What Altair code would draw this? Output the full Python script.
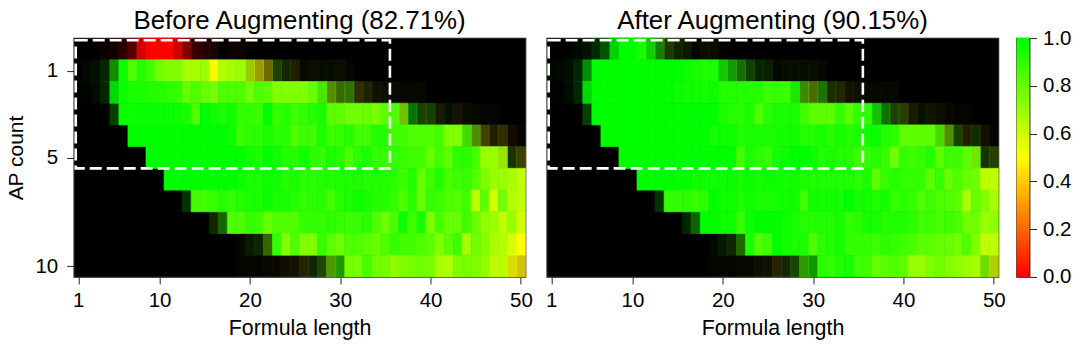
import altair as alt
import pandas as pd

TITLES = ["Before Augmenting (82.71%)", "After Augmenting (90.15%)"]
X_TICKS = [1, 10, 20, 30, 40, 50]
Y_TICKS = [1, 5, 10]
BAR_TICKS = [0.0, 0.2, 0.4, 0.6, 0.8, 1.0]
BOX_X = [0.72, 35.5]
BOX_Y = [-0.4, 5.5]
GRADIENT_COLORS = ["#ff0000", "#ffff00", "#00ff00"]

# first formula length with any data, per AP-count row (row 0 .. 10)
ROW_START = [3, 1, 2, 5, 7, 9, 11, 13, 16, 19, 19]

# cell brightness (share of samples), percent, from ROW_START on; same for both panels
WEIGHT = [
    [1,4,7,17,33,82,100,100,100,80,50,22,14,9,2,6,5,1],
    [2,3,6,15,55] + [100]*14 + [78,60,42,25,15,12,3,5,5,5,5,3],
    [1,5,15,85] + [100]*22 + [90,55,42,45,18,15,7,6,4,3,3,3],
    [25] + [100]*31 + [75,45,25,25,10,7,8,5,3,2,2],
    [100]*37 + [85,55,25,13,18,7,2],
    [100]*39 + [90,20,25],
    [100]*40,
    [20] + [100]*37,
    [15,40] + [100]*33,
    [3,10,15,40] + [100]*28,
    [2,2,2,3,3,6,7,15,15,27,60,60] + [100]*18 + [86,82],
]

BEFORE = [
    [0]*13 + [15,0,0,10,0],
    [90,80,90,95,93, 97,85,93,88,78, 75,75,67,67,70, 52,65,67,70,61, 50,50,75,75,50, 50,70,70,80,60, 70],
    [90,90,95,100, 98,95,95,93,93, 92,90,80,85,80, 77,85,85,85,78, 85,82,75,75,75, 75,80,85,70,75, 78,50,65,60,60, 60,70,70,70],
    [100, 98,98,98,98,98, 98,98,95,85,100, 97,95,97,90,90, 88,100,90,93,88, 90,93,95,82,82, 78,78,80,76,82, 85,70,97,80,80, 60,90,50,70,60, 60,60],
    [100,100,100,100, 100,100,100,100,100, 100,100,97,88,92, 92,95,92,92,85, 88,88,95,88,90, 93,87,87,93,93, 87,87,85,85,85, 87,75,75,85,72, 50,45,50,35,50],
    [100,100, 100,100,100,100,100, 100,100,100,100,97, 95,100,97,93,93, 97,92,90,95,93, 85,92,95,90,90, 90,90,87,87,80, 87,82,92,92,87, 70,70,67,75,55],
    [100,100,100,100,100, 100,100,100,98,95, 95,97,97,93,95, 92,92,93,94,94, 94,94,93,94,93, 92,88,94,80,88, 94,86,88,90,84, 76,70,70,67,63],
    [100,87,87, 90,93,90,93,95, 95,98,95,95,93, 90,92,92,87,92, 95,97,95,93,93, 90,85,92,80,90, 88,85,83,87,63, 82,58,78,65,63],
    [75,90, 85,85,90, 88,80,85,85,85, 90,90,90,92,90, 88,90,92,85,78, 86,98,88,96,75, 86,80,80,88,80, 72,70,63,70,59],
    [70,85,85,75, 90,75,85, 75,75,90,82,78, 85,85,82,80,85, 90,87,87,85,82, 75,82,88,67,78, 75,67,65,58,50],
    [50,50,50,50,50,50,50, 45,80,75,75,90, 77,77,86,78,77, 72,75,77,78,77, 67,65,75,77,75, 72,63,63,50,47],
]

AFTER = [
    [100]*8 + [95,95,92,72,80,70,80,60,40,50],
    [100,100,100,100,100, 100,100,100,100,100, 100,100,100,100,100, 98,95,93,95,95, 93,86,88,93,85, 80,75,75,75,70, 70],
    [100,100,100,100, 100,100,100,100,100, 100,100,100,100,98, 97,97,96,98,93, 93,93,93,93,88, 90,88,94,80,65, 87,70,60,50,60, 60,70,70,60],
    [100, 100,100,100,100,100, 100,100,100,100,100, 100,100,100,100,95, 93,92,95,85,92, 95,95,95,88,82, 82,82,90,82,90, 92,94,94,75,70, 50,80,60,50,60, 60,60],
    [100,100,100,100, 100,100,100,100,100, 100,100,100,96,97, 97,94,95,95,95, 96,96,97,93,93, 95,92,95,93,95, 98,98,93,92,82, 82,82,82,84,70, 80,45,80,40,50],
    [100,100, 100,100,100,100,100, 100,100,100,100,100, 100,87,95,92,90, 96,98,100,100,98, 93,95,93,93,88, 90,93,90,78,90, 88,90,94,82,88, 88,82,75,80,70],
    [100,100,100,100,100, 100,97,97,97,97, 98,96,98,96,98, 97,96,97,95,94, 94,94,94,94,92, 95,82,90,93,90, 90,90,82,90,80, 85,80,78,63,63],
    [100,90,90, 92,90,92,100,97, 97,95,97,95,95, 96,97,97,88,96, 96,96,96,100,96, 96,94,96,90,92, 90,85,88,85,85, 82,67,80,75,67],
    [100,95, 100,100,97, 97,90,97,100,100, 100,97,95,93,93, 94,94,96,90,92, 96,96,93,94,94, 92,88,88,86,88, 86,78,78,70,72],
    [80,90,85,85, 95,85,88, 100,97,95,95,85, 92,94,96,90,90, 90,88,92,90,88, 86,82,82,80,80, 78,85,75,63,63],
    [60,60,60,60,60,60,60, 45,70,85,85,95, 92,90,94,96,88, 87,80,82,84,82, 70,70,75,78,75, 72,70,67,75,58],
]


def frame(values):
    rows = []
    for r, (start, ws, vs) in enumerate(zip(ROW_START, WEIGHT, values)):
        assert len(ws) == len(vs), (r, len(ws), len(vs))
        assert start + len(ws) - 1 <= 50, r
        for i, (w, v) in enumerate(zip(ws, vs)):
            c = start + i
            rows.append({"x0": c - 0.5, "x1": c + 0.5, "y0": r - 0.5, "y1": r + 0.5,
                         "v": v / 100, "w": w / 100})
    return pd.DataFrame(rows)


FONT = "Liberation Sans"
PW, PH = 452, 239
x_scale = alt.Scale(domain=[0.5, 50.5], nice=False, zero=False)
y_scale = alt.Scale(domain=[-0.5, 10.5], reverse=True, nice=False, zero=False)
color_scale = alt.Scale(domain=[0, 0.5, 1], range=GRADIENT_COLORS, interpolate="rgb")


def panel(values, title, show_y):
    yaxis = alt.Axis(values=Y_TICKS, title="AP count", grid=False, labelFontSize=20.5, titleFontSize=21,
                     titleFontWeight="normal", tickSize=7, domain=False, tickColor="#222", labelColor="#000",
                     labelPadding=9, titlePadding=8, titleColor="#000", labelFont=FONT, titleFont=FONT) if show_y else None
    heat = alt.Chart(frame(values)).mark_rect(strokeWidth=0.7).encode(
        x=alt.X("x0:Q", scale=x_scale, axis=alt.Axis(values=X_TICKS, title="Formula length", grid=False, labelFontSize=20.5,
                titleFontSize=21.4, titleFontWeight="normal", tickSize=7, tickColor="#222", labelColor="#000",
                labelPadding=7, titlePadding=6, titleColor="#000", domain=False, labelFont=FONT, titleFont=FONT,
                labelOverlap=False, labelFlush=False)),
        x2="x1:Q",
        y=alt.Y("y0:Q", scale=y_scale, axis=yaxis),
        y2="y1:Q",
        color=alt.Color("v:Q", scale=color_scale, legend=None),
        stroke=alt.Stroke("v:Q", scale=color_scale, legend=None),
        opacity=alt.Opacity("w:Q", scale=alt.Scale(domain=[0, 1], range=[0, 1]), legend=None),
    )
    box = alt.Chart(pd.DataFrame({"x0": [BOX_X[0]], "x1": [BOX_X[1]], "y0": [BOX_Y[0]], "y1": [BOX_Y[1]]})).mark_rect(
        fill="transparent", stroke="white", strokeWidth=2.6, strokeDash=[12, 5]
    ).encode(x=alt.X("x0:Q", scale=x_scale), x2="x1:Q", y=alt.Y("y0:Q", scale=y_scale), y2="y1:Q")
    return alt.layer(heat, box).properties(
        width=PW, height=PH,
        title=alt.TitleParams(title, fontSize=25.9, fontWeight="normal", font=FONT, color="#000", offset=3, anchor="middle"),
    )


bar = alt.Chart(pd.DataFrame({"a": [0.0], "b": [1.0]})).mark_rect(
    fill=alt.Gradient(gradient="linear", x1=0, x2=0, y1=1, y2=0,
                      stops=[alt.GradientStop(offset=0, color=GRADIENT_COLORS[0]),
                             alt.GradientStop(offset=0.5, color=GRADIENT_COLORS[1]),
                             alt.GradientStop(offset=1, color=GRADIENT_COLORS[2])])
).encode(
    y=alt.Y("a:Q", scale=alt.Scale(domain=[0, 1], nice=False),
            axis=alt.Axis(orient="right", values=BAR_TICKS, format=".1f", title=None, grid=False, labelFontSize=20.5,
                          tickSize=7, tickColor="#222", labelColor="#000", labelPadding=6, domain=False, labelFont=FONT,
                          labelOverlap=False, labelFlush=False)),
    y2="b:Q",
    x=alt.value(0), x2=alt.value(13),
).properties(width=13, height=PH)

chart = alt.hconcat(
    alt.hconcat(panel(BEFORE, TITLES[0], True), panel(AFTER, TITLES[1], False), spacing=21.3, bounds="flush"),
    bar, spacing=9.5,
).properties(
    padding={"left": -3.2, "top": -1, "right": 0, "bottom": 0},
    background="white",
).configure_view(fill="#000", stroke="#222", strokeWidth=1.2)

chart.save("out.html", embed_options={"renderer": "svg", "actions": False})
